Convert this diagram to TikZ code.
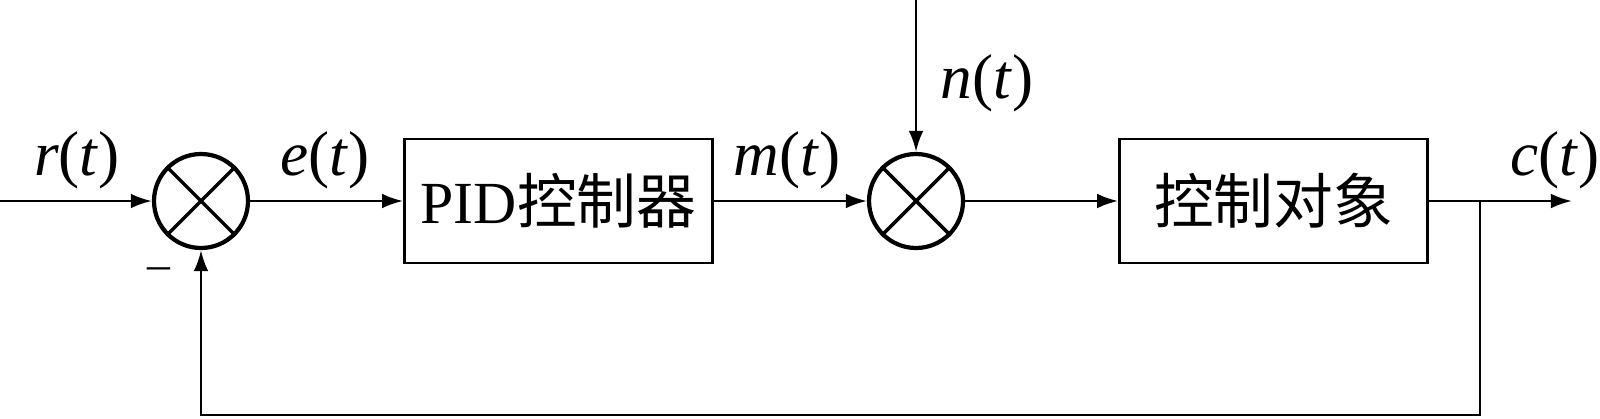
\documentclass[tikz,border=0pt]{standalone}
\usepackage{fontspec}
\setmainfont{Liberation Serif}
\newfontfamily\cjk{Noto Sans CJK SC}
\usetikzlibrary{positioning,arrows.meta}
\begin{document}
\begin{tikzpicture}[sumnode/.style={draw,circle,line width=1.2pt,minimum size=0.94cm,inner sep=0pt},
   blk/.style={draw,line width=0.8pt,minimum width=3.08cm,minimum height=1.24cm,inner sep=0pt,
   font=\fontsize{17}{20}\selectfont},
   sig/.style={font=\fontsize{18}{21}\selectfont},
   line width=0.75pt, >={Latex[length=6pt,width=4.2pt]},
   node distance=1.53cm]
 \useasboundingbox (0,0) rectangle (16,4.18);

 \node[sumnode] (s1) at (2.01,2.17) {};
 \node[blk,right=of s1] (pid) {PID{\cjk 控制器}};
 \node[sumnode,right=of pid] (s2) {};
 \node[blk,right=of s2] (plant) {\cjk 控制对象};
 \foreach \s in {s1,s2}
 {\draw[line width=1pt] (\s.north west) -- (\s.south east);
  \draw[line width=1pt] (\s.south west) -- (\s.north east);}

 \coordinate (in) at (0,2.17);
 \coordinate (dist) at ([yshift=2.01cm]s2.center);
 \coordinate (out) at (15.72,2.17);
 \coordinate (tap) at (14.80,2.17);
 \coordinate (fb) at (14.80,0.03);

 \draw[->] (in) -- (s1);
 \draw[->] (s1) -- (pid);
 \draw[->] (pid) -- (s2);
 \draw[->] (dist) -- (s2);
 \draw[->] (s2) -- (plant);
 \draw[->] (plant) -- (out);
 \draw[->] (tap) -- (fb) -| (s1.south);

 \node[sig] (r) at (0.77,2.58) {\textit{r}(\textit{t})};
 \node[sig] (e) at (3.25,2.58) {\textit{e}(\textit{t})};
 \node[sig] (m) at (7.87,2.58) {\textit{m}(\textit{t})};
 \node[sig] (n) at (9.87,3.35) {\textit{n}(\textit{t})};
 \node[sig] (c) at (15.55,2.58) {\textit{c}(\textit{t})};
 \node[font=\fontsize{13}{15}\selectfont] (minus) at (1.59,1.44) {–};
\end{tikzpicture}
\end{document}
